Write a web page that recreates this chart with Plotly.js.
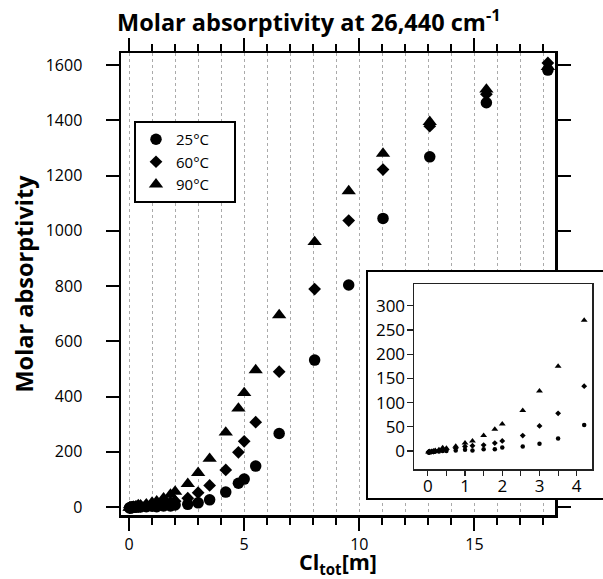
<!DOCTYPE html>
<html><head><meta charset="utf-8">
<script src="https://cdn.plot.ly/plotly-3.0.1.min.js"></script>
<style>html,body{margin:0;padding:0;background:#fff}</style>
</head><body>
<div id="chart" style="width:603px;height:579px"></div>
<script>
// ---- data ----
const clTot = [0.02,0.05,0.1,0.15,0.2,0.3,0.4,0.5,0.75,1.0,1.2,1.5,1.8,2.0,2.55,3.0,3.5,4.2,4.75,5.0,5.5,6.52,8.06,9.54,11.03,13.06,15.52,18.19];
const eps25 = [-3,-3,-2,-2,-1,-1,0,0,1,2.5,1.3,4,4,7.4,9.5,15,26,54,86,101,148,266,532,804,1045,1268,1464,1582];
const eps60 = [-2,-2,-1,-1,0,1,2,3,6,9.5,11,12.4,16.5,21,32,52,78,134,198,238,307,490,789,1037,1222,1379,1495,1608];
const eps90 = [-2,-1,-1,0,1,3,7,6,10,16.5,21,32,45,56,84,124,175,270,357,413,496,695,960,1144,1280,1395,1512,1594];
const seriesNames = ['25°C','60°C','90°C'];
const mainXTicks = [0,5,10,15];
const mainYTicks = [0,200,400,600,800,1000,1200,1400,1600];
const insetXTicks = [0,1,2,3,4];
const insetYTicks = [0,50,100,150,200,250,300];
const insetMaxX = 4.2;

const W = 603, H = 579;
const px = v => v / W;
const py = v => 1 - v / H;
const FONT = 'Open Sans, Liberation Sans, sans-serif';
const PAD = '\u00a0\u00a0\u00a0\u00a0\u00a0';

const series = [eps25, eps60, eps90];
const symbols = ['circle','diamond','triangle-up'];
const mainSizes = [11.5, 9.8, 12.5];
const insetSizes = [4.5, 4.5, 6];

const traces = [];
series.forEach((ys, i) => {
  traces.push({
    type:'scatter', mode:'markers', x: clTot, y: ys, name: seriesNames[i] + PAD,
    xaxis:'x', yaxis:'y',
    marker:{symbol: symbols[i], size: mainSizes[i], color:'#000', line:{width:0}},
    hoverinfo:'x+y'
  });
});
// empty trace to create the inset frame subplot
traces.push({type:'scatter', mode:'markers', x:[], y:[], xaxis:'x2', yaxis:'y2', showlegend:false, hoverinfo:'skip'});
series.forEach((ys, i) => {
  const xs = [], yv = [];
  clTot.forEach((x, k) => { if (x <= insetMaxX) { xs.push(x); yv.push(ys[k]); } });
  traces.push({
    type:'scatter', mode:'markers', x: xs, y: yv, name: seriesNames[i],
    xaxis:'x3', yaxis:'y3', showlegend:false,
    marker:{symbol: symbols[i], size: insetSizes[i], color:'#000', line:{width:0}},
    hoverinfo:'x+y'
  });
});

const layout = {
  width: W, height: H,
  margin:{l:0,r:0,t:0,b:0},
  paper_bgcolor:'#fff', plot_bgcolor:'#fff',
  font:{family: FONT, color:'#000', size:16},
  showlegend: true,
  title:{
    text:'Molar absorptivity at 26,440 cm<sup>-1</sup>',
    font:{family: FONT, size:23.5, weight:700, color:'#000'},
    xref:'container', yref:'container', x: px(117), xanchor:'left', y: py(23), yanchor:'middle'
  },
  legend:{
    x: px(134), y: py(121), xanchor:'left', yanchor:'top',
    bordercolor:'#000', borderwidth:2, bgcolor:'#fff',
    font:{family: FONT, size:15, color:'#000'},
    itemwidth:30, tracegroupgap:0
  },
  xaxis:{
    domain:[px(121), px(555)], range:[-0.35, 18.5], anchor:'y',
    showline:true, linecolor:'#000', linewidth:2.5, mirror:'ticks',
    ticks:'outside', ticklen:13, tickwidth:2, tickcolor:'#000',
    tickmode:'array', tickvals: mainXTicks, ticktext: mainXTicks.map(String),
    tickfont:{family: FONT, size:16}, ticklabelstandoff: 0,
    showgrid:true, gridcolor:'#aaa', gridwidth:1, griddash:'dot',
    minor:{dtick:1, tick0:0, ticks:'outside', ticklen:7, tickwidth:2, tickcolor:'#000',
           showgrid:true, gridcolor:'#aaa', gridwidth:1, griddash:'dot'},
    zeroline:false, automargin:false,
    title:{text:'Cl<sub>tot</sub>[m]', font:{family: FONT, size:21.5, weight:700}, standoff:9}
  },
  yaxis:{
    domain:[py(515), py(53)], range:[-29, 1644], anchor:'x',
    showline:true, linecolor:'#000', linewidth:2.5, mirror:'ticks',
    ticks:'outside', ticklen:13, tickwidth:2, tickcolor:'#000',
    tickmode:'array', tickvals: mainYTicks, ticktext: mainYTicks.map(String),
    tickfont:{family: FONT, size:16}, ticklabelstandoff: 20,
    showgrid:false, zeroline:false, automargin:false,
    title:{text:'Molar absorptivity', font:{family: FONT, size:23.5, weight:700}, standoff:6}
  },
  xaxis2:{
    domain:[px(368), 1], range:[0,1], anchor:'y2',
    showline:true, linecolor:'#000', linewidth:2, mirror:true,
    showticklabels:false, ticks:'', showgrid:false, zeroline:false, fixedrange:true
  },
  yaxis2:{
    domain:[py(498), py(272)], range:[0,1], anchor:'x2',
    showline:true, linecolor:'#000', linewidth:2, mirror:false,
    showticklabels:false, ticks:'', showgrid:false, zeroline:false, fixedrange:true
  },
  xaxis3:{
    domain:[px(414), px(592)], range:[-0.37, 4.41], anchor:'y3',
    showline:true, linecolor:'#222', linewidth:1.5, mirror:true,
    ticks:'outside', ticklen:5, tickwidth:1.2, tickcolor:'#222',
    tickmode:'array', tickvals: insetXTicks, ticktext: insetXTicks.map(String),
    minor:{dtick:0.5, tick0:0, ticks:'outside', ticklen:5, tickwidth:1.2, tickcolor:'#222'},
    tickfont:{family: FONT, size:17}, ticklabelstandoff: -4,
    showgrid:false, zeroline:false, automargin:false
  },
  yaxis3:{
    domain:[py(469), py(284)], range:[-37, 345], anchor:'x3',
    showline:true, linecolor:'#222', linewidth:1.5, mirror:true,
    ticks:'outside', ticklen:6, tickwidth:1.2, tickcolor:'#222',
    tickmode:'array', tickvals: insetYTicks, ticktext: insetYTicks.map(String),
    tickfont:{family: FONT, size:17}, ticklabelstandoff: -2,
    showgrid:false, zeroline:false, automargin:false
  }
};

Plotly.newPlot('chart', traces, layout, {displayModeBar:false, staticPlot:true});
</script>
</body></html>
